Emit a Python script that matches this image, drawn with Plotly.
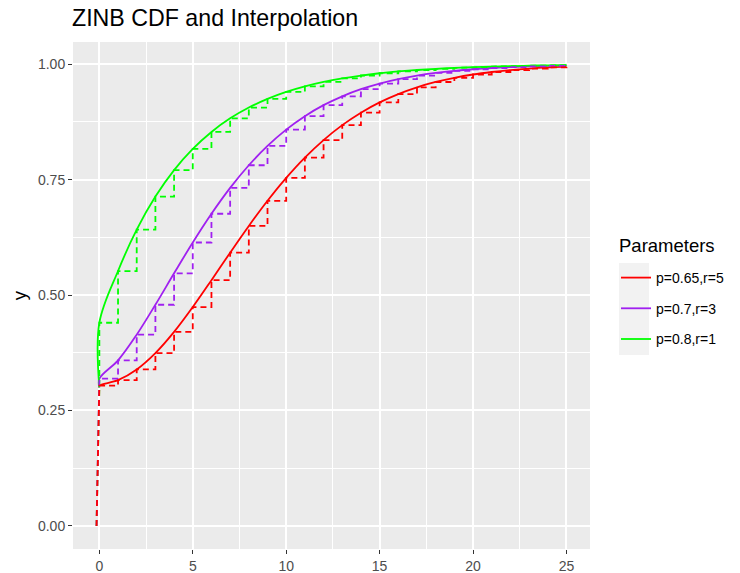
import plotly.graph_objects as go

# ---- data ----
x_int = list(range(26))
zero_mass = 0.3          # value of the interpolation at x = 0
step_start_x = -0.15     # start of the dashed step CDF (at y = 0)
labels = ["p=0.65,r=5", "p=0.7,r=3", "p=0.8,r=1"]
colors = ["#FF0000", "#A020F0", "#00FF00"]
legend_title = "Parameters"

cdf_red = [0.3037, 0.3156, 0.3389, 0.3743, 0.4202, 0.4740, 0.5322, 0.5917, 0.6496,
           0.7041, 0.7536, 0.7976, 0.8356, 0.8680, 0.8950, 0.9173, 0.9353, 0.9499,
           0.9614, 0.9705, 0.9776, 0.9830, 0.9873, 0.9905, 0.9929, 0.9947]
cdf_purple = [0.3189, 0.3586, 0.4142, 0.4790, 0.5471, 0.6138, 0.6760, 0.7321, 0.7811,
              0.8230, 0.8583, 0.8874, 0.9112, 0.9304, 0.9458, 0.9580, 0.9676, 0.9752,
              0.9810, 0.9855, 0.9890, 0.9917, 0.9937, 0.9953, 0.9965, 0.9973]
cdf_green = [0.4400, 0.5520, 0.6416, 0.7133, 0.7706, 0.8165, 0.8532, 0.8826, 0.9060,
             0.9248, 0.9399, 0.9519, 0.9615, 0.9692, 0.9754, 0.9803, 0.9842, 0.9874,
             0.9899, 0.9919, 0.9935, 0.9948, 0.9959, 0.9967, 0.9974, 0.9979]
cdfs = [cdf_red, cdf_purple, cdf_green]

x_ticks = [0, 5, 10, 15, 20, 25]
y_ticks = [0.0, 0.25, 0.5, 0.75, 1.0]
y_tick_text = ["0.00", "0.25", "0.50", "0.75", "1.00"]

FONT = "Liberation Sans, Arial, Helvetica, sans-serif"

fig = go.Figure()

# solid interpolation curves (legend entries, in legend order)
for i in range(3):
    F = cdfs[i]
    fig.add_trace(go.Scatter(
        x=[0] + x_int, y=[zero_mass] + F, mode="lines", name=labels[i],
        legendgroup=labels[i],
        line=dict(color=colors[i], width=1.8, shape="spline", smoothing=1.0)))

# dashed step functions (drawn so red ends on top)
for i in [2, 1, 0]:
    F = cdfs[i]
    px = [step_start_x, 0, 0]
    py = [0.0, zero_mass, F[0]]
    for k in range(1, len(F)):
        px += [x_int[k], x_int[k]]
        py += [F[k - 1], F[k]]
    fig.add_trace(go.Scatter(
        x=px, y=py, mode="lines", showlegend=False, legendgroup=labels[i],
        line=dict(color=colors[i], width=1.8, dash="6px,4px"), hoverinfo="skip"))

W, H = 740, 573
L, R, T, B = 73, 150, 42, 24
pw = W - L - R
ph = H - T - B

def px2x(p):
    return (p - L) / pw

def py2y(p):
    return (H - B - p) / ph

# legend key background (ggplot style)
fig.add_shape(type="rect", xref="paper", yref="paper",
              x0=px2x(619), x1=px2x(649), y0=py2y(355), y1=py2y(263),
              fillcolor="#F2F2F2", line=dict(width=0), layer="below")

# legend title
fig.add_annotation(text=legend_title, xref="paper", yref="paper",
                   x=px2x(617), xanchor="left", y=py2y(245), yanchor="middle",
                   showarrow=False, font=dict(size=18.5, color="#000000", family=FONT))

fig.update_layout(
    width=W, height=H,
    margin=dict(l=L, r=R, t=T, b=B, pad=0, autoexpand=False),
    paper_bgcolor="white", plot_bgcolor="#EBEBEB",
    font=dict(family=FONT, color="#000000"),
    title=dict(text="ZINB CDF and Interpolation", x=72 / W, xanchor="left",
               y=1 - 18 / H, yanchor="middle",
               font=dict(size=23.2, color="#000000", family=FONT)),
    showlegend=True,
    legend=dict(
        x=px2x(616), xanchor="left", y=py2y(262), yanchor="top",
        bgcolor="rgba(0,0,0,0)", borderwidth=0,
        font=dict(size=14, color="#000000"),
        tracegroupgap=9.5, traceorder="grouped", itemwidth=30),
    xaxis=dict(
        range=[-1.41, 26.26], tickmode="array", tickvals=x_ticks,
        ticks="outside", ticklen=4, tickwidth=1, tickcolor="#333333",
        tickfont=dict(size=14, color="#4D4D4D"),
        showgrid=True, gridcolor="#FFFFFF", gridwidth=1.5,
        minor=dict(dtick=2.5, tick0=0, showgrid=True, gridcolor="#FFFFFF",
                   gridwidth=0.7, ticks=""),
        zeroline=False, showline=False, title=None, automargin=False),
    yaxis=dict(
        range=[-0.05, 1.048], tickmode="array", tickvals=y_ticks,
        ticktext=y_tick_text,
        ticks="outside", ticklen=4, tickwidth=1, tickcolor="#333333",
        tickfont=dict(size=14, color="#4D4D4D"),
        showgrid=True, gridcolor="#FFFFFF", gridwidth=1.5,
        minor=dict(dtick=0.125, tick0=0, showgrid=True, gridcolor="#FFFFFF",
                   gridwidth=0.7, ticks=""),
        zeroline=False, showline=False, automargin=False,
        title=dict(text="y", font=dict(size=18.5, color="#000000"), standoff=6)),
)

fig.write_html("out.html")
